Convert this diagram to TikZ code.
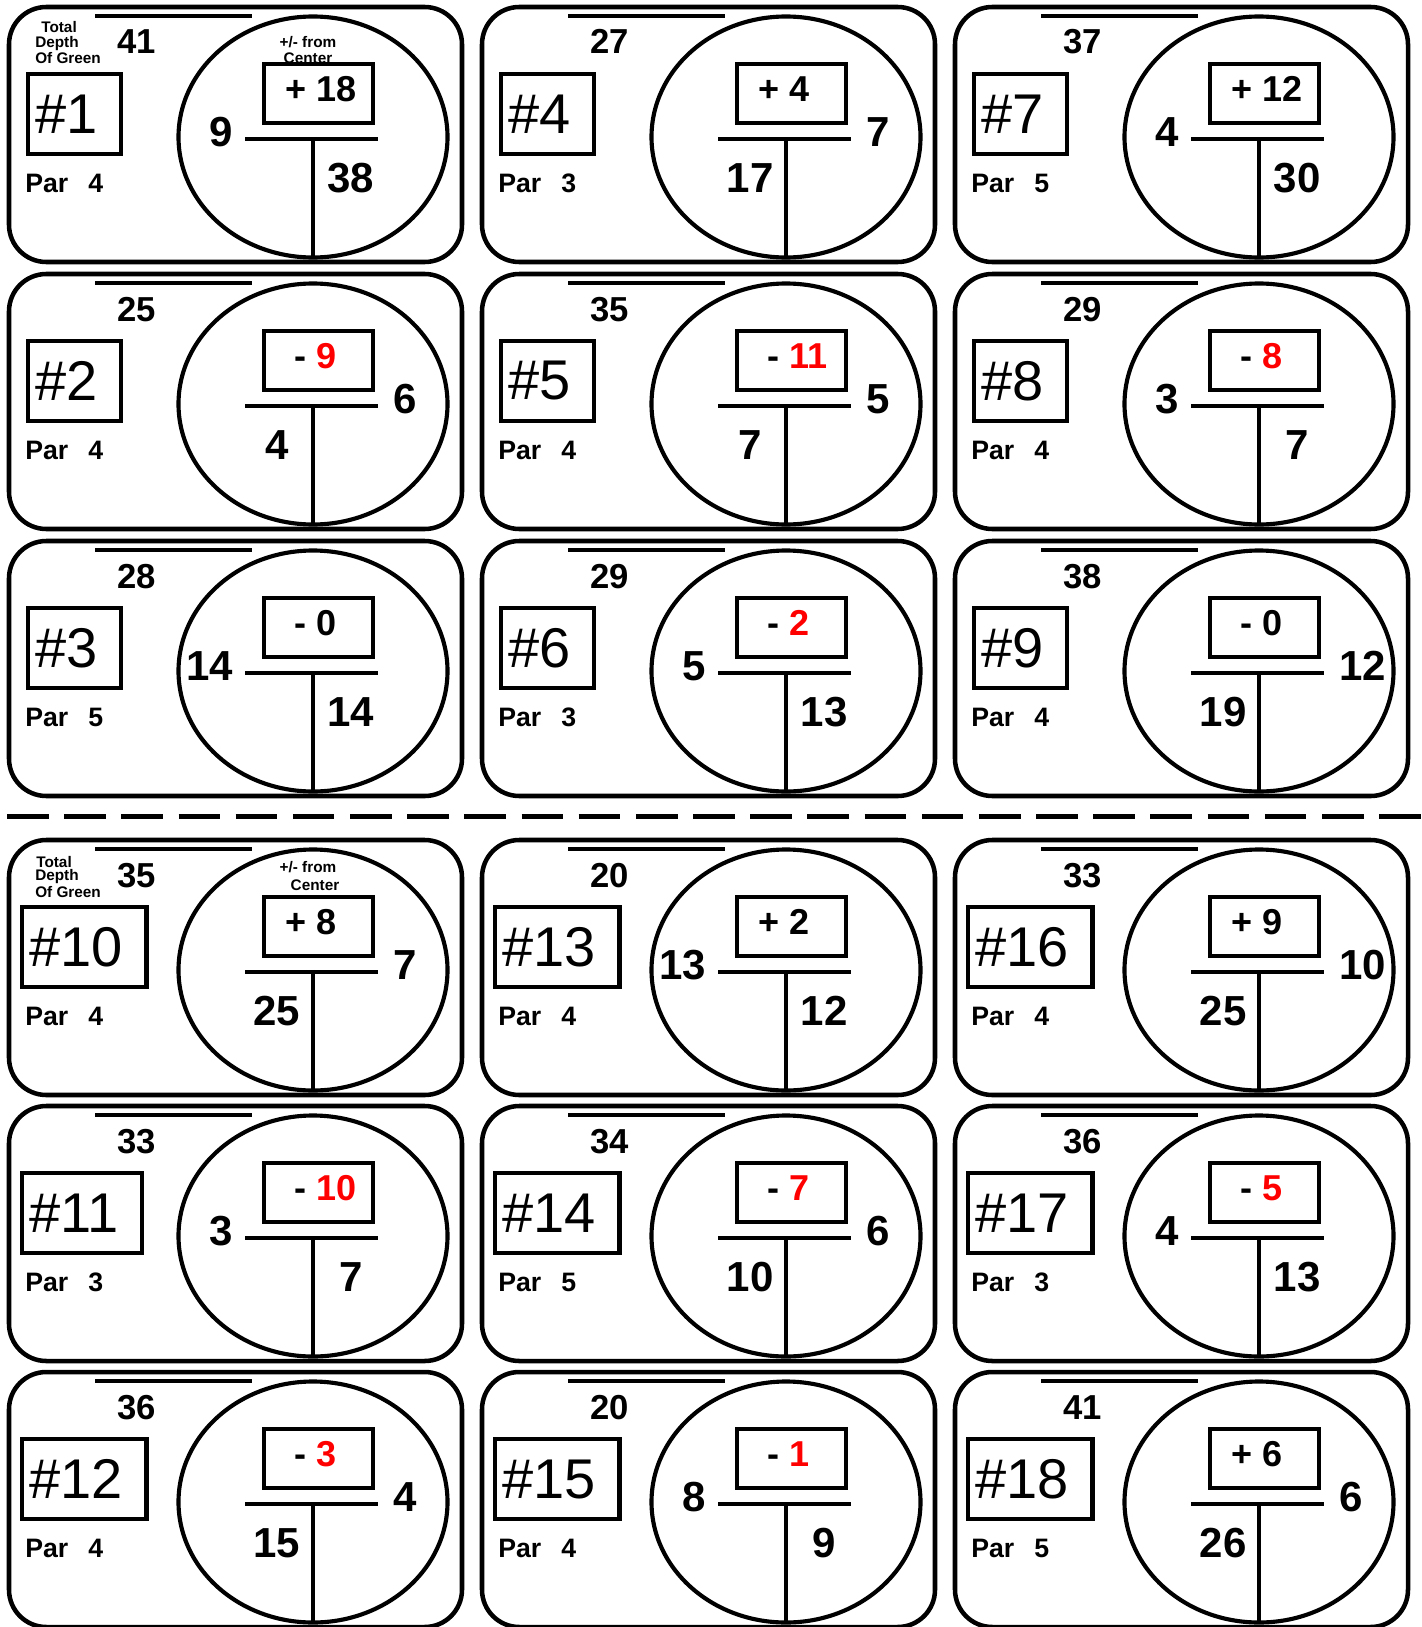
\documentclass[tikz,border=0pt]{standalone}
\usepackage{fontspec}
\setmainfont{Liberation Sans}
\usetikzlibrary{positioning}
\definecolor{overred}{RGB}{255,0,0}
\newcommand{\fs}[1]{\fontsize{#1}{#1}\selectfont}

\begin{document}
\begin{tikzpicture}[x=0.75pt, y=-0.75pt,
  holecard/.style={line width=3.4pt, rounded corners=28pt},
  topbar/.style={line width=2.6pt},
  greenline/.style={line width=3.1pt},
  splitbar/.style={line width=3.5pt},
  holebox/.style={draw, line width=3.3pt, inner xsep=5.5pt, inner ysep=0pt, minimum height=60pt, font=\fs{42pt}},
  devbox/.style={draw, line width=3.2pt, fill=white, minimum width=81.75pt, minimum height=44.25pt, inner sep=0pt},
  devtext/.style={inner sep=0pt, anchor=base west, font=\fs{27pt}\bfseries},
  depthnum/.style={inner sep=0pt, anchor=base, font=\fs{26pt}\bfseries},
  bignum/.style={inner sep=0pt, font=\fs{31.5pt}\bfseries},
  parlabel/.style={inner sep=0pt, anchor=base west, font=\fs{20pt}\bfseries},
  hdrlabel/.style={inner sep=0pt, font=\fs{11.5pt}\bfseries}]
  \useasboundingbox (0,0) rectangle (1421,1627);

  % labels of the first card in each half
  \node[hdrlabel, anchor=base west] (totalA) at (41,33) {Total};
  \node[hdrlabel, anchor=base west] (depthA) at (35,48) {Depth};
  \node[hdrlabel, anchor=base west] (greenA) at (35,64) {Of Green};
  \node[hdrlabel, anchor=base] (fromA) at (308,48) {+/- from};
  \node[hdrlabel, anchor=base] (centerA) at (308,64) {Center};
  \node[hdrlabel, anchor=base west] (totalB) at (36,867) {Total};
  \node[hdrlabel, anchor=base west] (depthB) at (35,880) {Depth};
  \node[hdrlabel, anchor=base west] (greenB) at (35,897) {Of Green};
  \node[hdrlabel, anchor=base] (fromB) at (308,872) {+/- from};
  \node[hdrlabel, anchor=base] (centerB) at (315,890) {Center};

  % front nine / back nine
  \draw[line width=3.75pt, dash pattern=on 31.2pt off 11.68pt] (7,816) -- (1421,816);

  \foreach \cx/\cy/\hole/\parval/\tdepth/\sgn/\dev/\devcol/\side/\upnum/\lownum/\bx in {
      7/5/1/4/41/+/18/black/L/9/38/19,
      480/5/4/3/27/+/4/black/R/7/17/19,
      953/5/7/5/37/+/12/black/L/4/30/19,
      7/272/2/4/25/-/9/overred/R/6/4/19,
      480/272/5/4/35/-/11/overred/R/5/7/19,
      953/272/8/4/29/-/8/overred/L/3/7/19,
      7/539/3/5/28/-/0/black/L/14/14/19,
      480/539/6/3/29/-/2/overred/L/5/13/19,
      953/539/9/4/38/-/0/black/R/12/19/19,
      7/838/10/4/35/+/8/black/R/7/25/13,
      480/838/13/4/20/+/2/black/L/13/12/13,
      953/838/16/4/33/+/9/black/R/10/25/13,
      7/1104/11/3/33/-/10/overred/L/3/7/13,
      480/1104/14/5/34/-/7/overred/R/6/10/13,
      953/1104/17/3/36/-/5/overred/L/4/13/13,
      7/1370/12/4/36/-/3/overred/R/4/15/13,
      480/1370/15/4/20/-/1/overred/L/8/9/13,
      953/1370/18/5/41/+/6/black/R/6/26/13}{
    \begin{scope}[shift={(\cx,\cy)}]
      \draw[holecard] (2,2) rectangle (455,257);
      \draw[topbar] (88,11) -- (245,11);
      \node[depthnum] (depth\hole) at (129.5,49) {\tdepth};
      \node[holebox, anchor=west] (hole\hole) at (\bx,109) {\#\hole\kern12pt};
      \node[parlabel] (par\hole) at (18,187) {Par\hspace{15pt}\parval};
      \draw[greenline] (306,132) ellipse [x radius=134.5, y radius=120.5];
      \node[devbox] (devbox\hole) at (311.5,88.5) {};
      \node[devtext] (dev\hole) at (309,96) {\llap{\sgn\ }\textcolor{\devcol}{\dev}};
      \draw[splitbar] (238,134) -- (371,134);
      \draw[splitbar] (306,134) -- (306,253);
      \if\side L
        \node[bignum, anchor=base east] (up\hole) at (226,141) {\upnum};
        \node[bignum, anchor=base] (low\hole) at (344,187) {\lownum};
      \else
        \node[bignum, anchor=base west] (up\hole) at (386,141) {\upnum};
        \node[bignum, anchor=base] (low\hole) at (270,187) {\lownum};
      \fi
    \end{scope}
  }
\end{tikzpicture}
\end{document}
